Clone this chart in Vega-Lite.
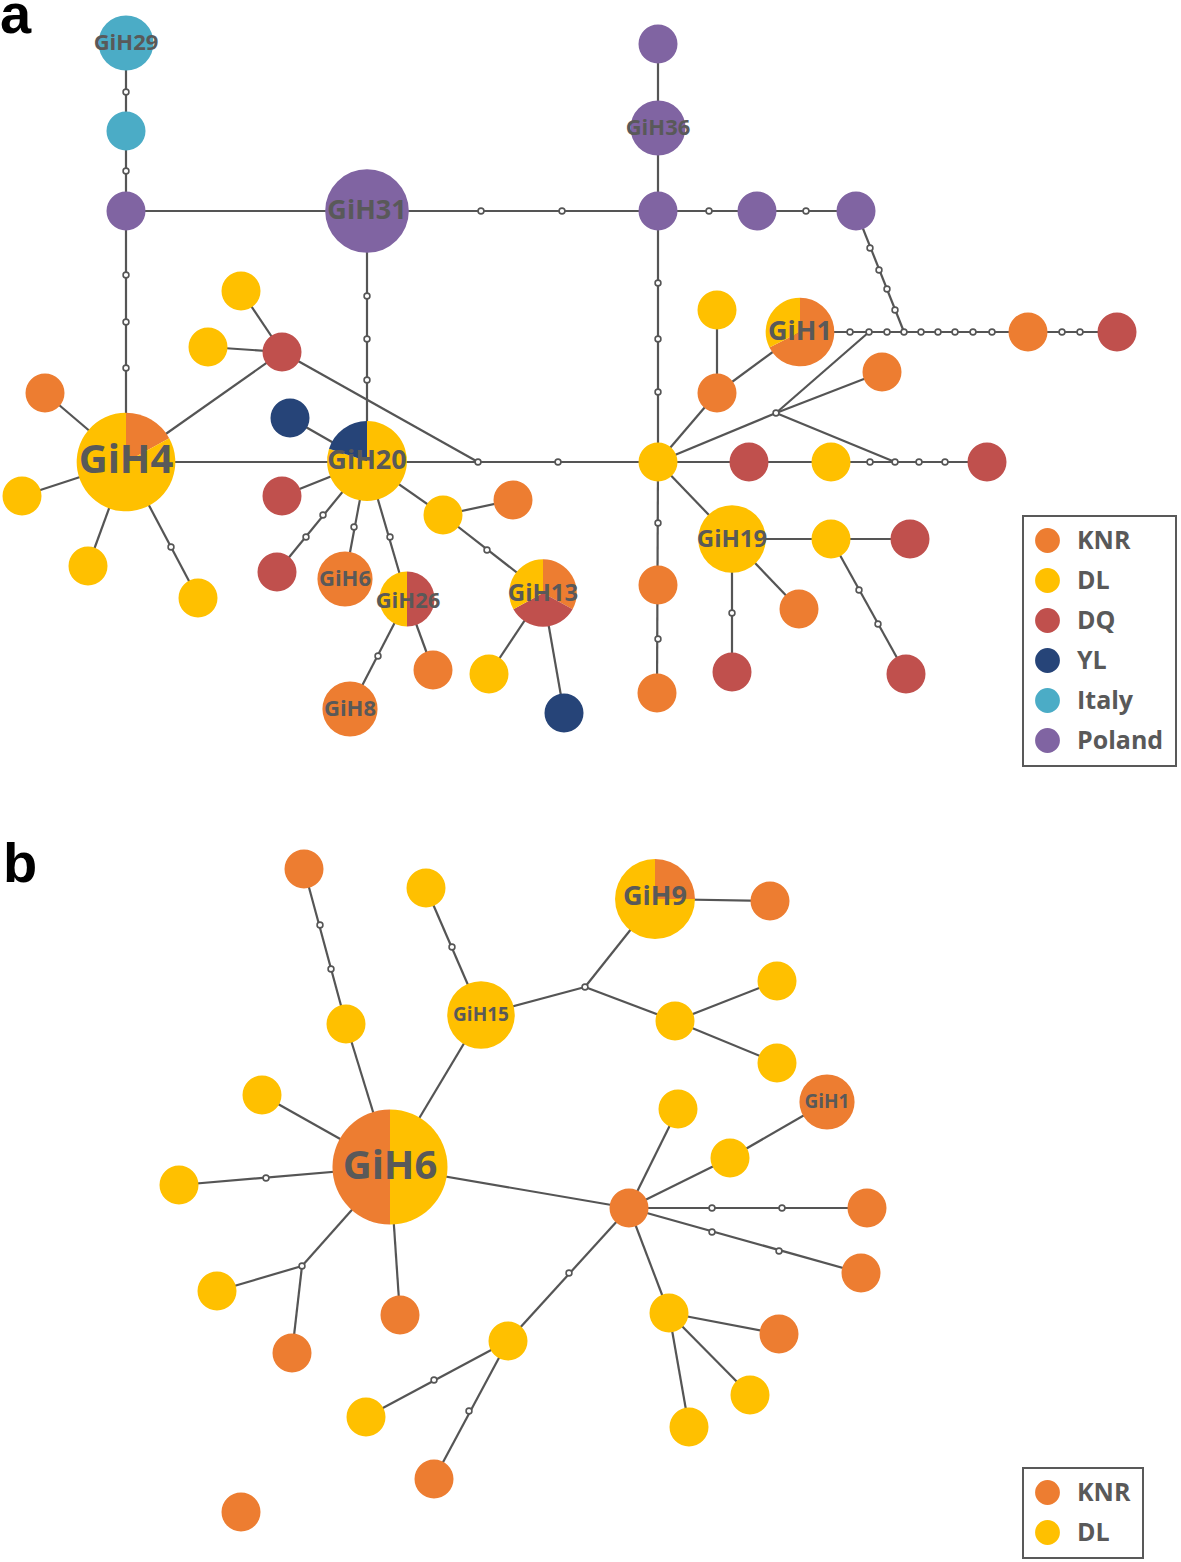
{
  "$schema": "https://vega.github.io/schema/vega-lite/v6.json",
  "width": 1181,
  "height": 1562,
  "padding": 0,
  "autosize": {"type": "none"},
  "background": "white",
  "config": {
    "view": {"stroke": null},
    "legend": {
      "labelFont": "Open Sans",
      "labelFontSize": 25,
      "labelFontWeight": "bold",
      "labelColor": "#595959",
      "padding": 12,
      "rowPadding": 14,
      "labelOffset": 17,
      "strokeColor": "#595959",
      "strokeWidth": 2,
      "fillColor": "white",
      "symbolStrokeWidth": 0,
      "symbolOpacity": 1
    }
  },
  "datasets": {
    "nodes": [
      {"p":"a","id":"GiH29","x":126,"y":43,"n":2,"pop":"Italy","a0":0,"a1":1},
      {"p":"a","id":"a2","x":126,"y":131,"n":1,"pop":"Italy","a0":0,"a1":1},
      {"p":"a","id":"a3","x":126,"y":211,"n":1,"pop":"Poland","a0":0,"a1":1},
      {"p":"a","id":"GiH31","x":367,"y":211,"n":4.6,"pop":"Poland","a0":0,"a1":1},
      {"p":"a","id":"a5","x":658,"y":44,"n":1,"pop":"Poland","a0":0,"a1":1},
      {"p":"a","id":"GiH36","x":658,"y":128,"n":2,"pop":"Poland","a0":0,"a1":1},
      {"p":"a","id":"a7","x":658,"y":211,"n":1,"pop":"Poland","a0":0,"a1":1},
      {"p":"a","id":"a8","x":757,"y":211,"n":1,"pop":"Poland","a0":0,"a1":1},
      {"p":"a","id":"a9","x":856,"y":211,"n":1,"pop":"Poland","a0":0,"a1":1},
      {"p":"a","id":"GiH1","x":800,"y":332,"n":3.1,"pop":"KNR","a0":0,"a1":0.675},
      {"p":"a","id":"GiH1","x":800,"y":332,"n":3.1,"pop":"DL","a0":0.675,"a1":1},
      {"p":"a","id":"a11","x":1028,"y":332,"n":1,"pop":"KNR","a0":0,"a1":1},
      {"p":"a","id":"a12","x":1117,"y":332,"n":1,"pop":"DQ","a0":0,"a1":1},
      {"p":"a","id":"a13","x":882,"y":372,"n":1,"pop":"KNR","a0":0,"a1":1},
      {"p":"a","id":"a14","x":717,"y":310,"n":1,"pop":"DL","a0":0,"a1":1},
      {"p":"a","id":"a15","x":717,"y":393,"n":1,"pop":"KNR","a0":0,"a1":1},
      {"p":"a","id":"a16","x":658,"y":462,"n":1,"pop":"DL","a0":0,"a1":1},
      {"p":"a","id":"a17","x":749,"y":462,"n":1,"pop":"DQ","a0":0,"a1":1},
      {"p":"a","id":"a18","x":831,"y":462,"n":1,"pop":"DL","a0":0,"a1":1},
      {"p":"a","id":"a19","x":987,"y":462,"n":1,"pop":"DQ","a0":0,"a1":1},
      {"p":"a","id":"GiH19","x":732,"y":539,"n":3,"pop":"DL","a0":0,"a1":1},
      {"p":"a","id":"a21","x":831,"y":539,"n":1,"pop":"DL","a0":0,"a1":1},
      {"p":"a","id":"a22","x":910,"y":539,"n":1,"pop":"DQ","a0":0,"a1":1},
      {"p":"a","id":"a23","x":799,"y":609,"n":1,"pop":"KNR","a0":0,"a1":1},
      {"p":"a","id":"a24","x":732,"y":672,"n":1,"pop":"DQ","a0":0,"a1":1},
      {"p":"a","id":"a25","x":906,"y":674,"n":1,"pop":"DQ","a0":0,"a1":1},
      {"p":"a","id":"a26","x":658,"y":585,"n":1,"pop":"KNR","a0":0,"a1":1},
      {"p":"a","id":"a27","x":657,"y":693,"n":1,"pop":"KNR","a0":0,"a1":1},
      {"p":"a","id":"GiH4","x":126,"y":462,"n":6.4,"pop":"KNR","a0":0,"a1":0.17},
      {"p":"a","id":"GiH4","x":126,"y":462,"n":6.4,"pop":"DL","a0":0.17,"a1":1},
      {"p":"a","id":"a29","x":45,"y":393,"n":1,"pop":"KNR","a0":0,"a1":1},
      {"p":"a","id":"a30","x":22,"y":496,"n":1,"pop":"DL","a0":0,"a1":1},
      {"p":"a","id":"a31","x":88,"y":566,"n":1,"pop":"DL","a0":0,"a1":1},
      {"p":"a","id":"a32","x":198,"y":598,"n":1,"pop":"DL","a0":0,"a1":1},
      {"p":"a","id":"a33","x":241,"y":291,"n":1,"pop":"DL","a0":0,"a1":1},
      {"p":"a","id":"a34","x":208,"y":347,"n":1,"pop":"DL","a0":0,"a1":1},
      {"p":"a","id":"a35","x":282,"y":352,"n":1,"pop":"DQ","a0":0,"a1":1},
      {"p":"a","id":"GiH20","x":367,"y":461,"n":4.2,"pop":"DL","a0":0,"a1":0.8},
      {"p":"a","id":"GiH20","x":367,"y":461,"n":4.2,"pop":"YL","a0":0.8,"a1":1},
      {"p":"a","id":"a37","x":290,"y":418,"n":1,"pop":"YL","a0":0,"a1":1},
      {"p":"a","id":"a38","x":282,"y":496,"n":1,"pop":"DQ","a0":0,"a1":1},
      {"p":"a","id":"a39","x":277,"y":572,"n":1,"pop":"DQ","a0":0,"a1":1},
      {"p":"a","id":"GiH6","x":345,"y":579,"n":2,"pop":"KNR","a0":0,"a1":1},
      {"p":"a","id":"GiH26","x":407,"y":599,"n":2,"pop":"DQ","a0":0,"a1":0.5},
      {"p":"a","id":"GiH26","x":407,"y":599,"n":2,"pop":"DL","a0":0.5,"a1":1},
      {"p":"a","id":"GiH8","x":350,"y":709,"n":2,"pop":"KNR","a0":0,"a1":1},
      {"p":"a","id":"a43","x":433,"y":670,"n":1,"pop":"KNR","a0":0,"a1":1},
      {"p":"a","id":"a44","x":443,"y":515,"n":1,"pop":"DL","a0":0,"a1":1},
      {"p":"a","id":"a45","x":513,"y":500,"n":1,"pop":"KNR","a0":0,"a1":1},
      {"p":"a","id":"GiH13","x":543,"y":593,"n":3,"pop":"KNR","a0":0,"a1":0.33},
      {"p":"a","id":"GiH13","x":543,"y":593,"n":3,"pop":"DQ","a0":0.33,"a1":0.67},
      {"p":"a","id":"GiH13","x":543,"y":593,"n":3,"pop":"DL","a0":0.67,"a1":1},
      {"p":"a","id":"a47","x":489,"y":674,"n":1,"pop":"DL","a0":0,"a1":1},
      {"p":"a","id":"a48","x":564,"y":713,"n":1,"pop":"YL","a0":0,"a1":1},

      {"p":"b","id":"b1","x":304,"y":869,"n":1,"pop":"KNR","a0":0,"a1":1},
      {"p":"b","id":"b2","x":346,"y":1024,"n":1,"pop":"DL","a0":0,"a1":1},
      {"p":"b","id":"b3","x":426,"y":888,"n":1,"pop":"DL","a0":0,"a1":1},
      {"p":"b","id":"GiH15","x":481,"y":1015,"n":3,"pop":"DL","a0":0,"a1":1},
      {"p":"b","id":"GiH9","x":655,"y":899,"n":4.2,"pop":"KNR","a0":0,"a1":0.25},
      {"p":"b","id":"GiH9","x":655,"y":899,"n":4.2,"pop":"DL","a0":0.25,"a1":1},
      {"p":"b","id":"b6","x":770,"y":901,"n":1,"pop":"KNR","a0":0,"a1":1},
      {"p":"b","id":"b7","x":675,"y":1021,"n":1,"pop":"DL","a0":0,"a1":1},
      {"p":"b","id":"b8","x":777,"y":981,"n":1,"pop":"DL","a0":0,"a1":1},
      {"p":"b","id":"b9","x":777,"y":1063,"n":1,"pop":"DL","a0":0,"a1":1},
      {"p":"b","id":"GiH1","x":827,"y":1102,"n":2,"pop":"KNR","a0":0,"a1":1},
      {"p":"b","id":"b11","x":678,"y":1109,"n":1,"pop":"DL","a0":0,"a1":1},
      {"p":"b","id":"b12","x":730,"y":1158,"n":1,"pop":"DL","a0":0,"a1":1},
      {"p":"b","id":"b13","x":629,"y":1208,"n":1,"pop":"KNR","a0":0,"a1":1},
      {"p":"b","id":"b14","x":867,"y":1208,"n":1,"pop":"KNR","a0":0,"a1":1},
      {"p":"b","id":"b15","x":861,"y":1273,"n":1,"pop":"KNR","a0":0,"a1":1},
      {"p":"b","id":"b16","x":669,"y":1313,"n":1,"pop":"DL","a0":0,"a1":1},
      {"p":"b","id":"b17","x":779,"y":1334,"n":1,"pop":"KNR","a0":0,"a1":1},
      {"p":"b","id":"b18","x":750,"y":1395,"n":1,"pop":"DL","a0":0,"a1":1},
      {"p":"b","id":"b19","x":689,"y":1427,"n":1,"pop":"DL","a0":0,"a1":1},
      {"p":"b","id":"GiH6","x":390,"y":1167,"n":8.7,"pop":"DL","a0":0,"a1":0.5},
      {"p":"b","id":"GiH6","x":390,"y":1167,"n":8.7,"pop":"KNR","a0":0.5,"a1":1},
      {"p":"b","id":"b21","x":262,"y":1095,"n":1,"pop":"DL","a0":0,"a1":1},
      {"p":"b","id":"b22","x":179,"y":1185,"n":1,"pop":"DL","a0":0,"a1":1},
      {"p":"b","id":"b23","x":217,"y":1291,"n":1,"pop":"DL","a0":0,"a1":1},
      {"p":"b","id":"b24","x":292,"y":1353,"n":1,"pop":"KNR","a0":0,"a1":1},
      {"p":"b","id":"b25","x":400,"y":1315,"n":1,"pop":"KNR","a0":0,"a1":1},
      {"p":"b","id":"b26","x":508,"y":1341,"n":1,"pop":"DL","a0":0,"a1":1},
      {"p":"b","id":"b27","x":366,"y":1417,"n":1,"pop":"DL","a0":0,"a1":1},
      {"p":"b","id":"b28","x":434,"y":1479,"n":1,"pop":"KNR","a0":0,"a1":1},
      {"p":"b","id":"b29","x":241,"y":1512,"n":1,"pop":"KNR","a0":0,"a1":1}
    ],
    "edges": [
      {"x":126,"y":43,"x2":126,"y2":462},
      {"x":126,"y":211,"x2":367,"y2":211},
      {"x":367,"y":211,"x2":658,"y2":211},
      {"x":658,"y":44,"x2":658,"y2":462},
      {"x":658,"y":211,"x2":856,"y2":211},
      {"x":856,"y":211,"x2":904,"y2":332},
      {"x":800,"y":332,"x2":1117,"y2":332},
      {"x":367,"y":211,"x2":367,"y2":462},
      {"x":241,"y":291,"x2":282,"y2":352},
      {"x":208,"y":347,"x2":282,"y2":352},
      {"x":282,"y":352,"x2":126,"y2":462},
      {"x":282,"y":352,"x2":478,"y2":462},
      {"x":126,"y":462,"x2":658,"y2":462},
      {"x":126,"y":462,"x2":45,"y2":393},
      {"x":126,"y":462,"x2":22,"y2":496},
      {"x":126,"y":462,"x2":88,"y2":566},
      {"x":126,"y":462,"x2":198,"y2":598},
      {"x":367,"y":462,"x2":290,"y2":418},
      {"x":367,"y":462,"x2":282,"y2":496},
      {"x":367,"y":462,"x2":277,"y2":572},
      {"x":367,"y":462,"x2":345,"y2":579},
      {"x":367,"y":462,"x2":407,"y2":599},
      {"x":407,"y":599,"x2":350,"y2":709},
      {"x":407,"y":599,"x2":433,"y2":670},
      {"x":367,"y":462,"x2":443,"y2":515},
      {"x":443,"y":515,"x2":513,"y2":500},
      {"x":443,"y":515,"x2":543,"y2":593},
      {"x":543,"y":593,"x2":489,"y2":674},
      {"x":543,"y":593,"x2":564,"y2":713},
      {"x":658,"y":462,"x2":717,"y2":393},
      {"x":717,"y":393,"x2":717,"y2":310},
      {"x":717,"y":393,"x2":800,"y2":332},
      {"x":658,"y":462,"x2":776,"y2":413},
      {"x":776,"y":413,"x2":869,"y2":332},
      {"x":776,"y":413,"x2":882,"y2":372},
      {"x":776,"y":413,"x2":895,"y2":462},
      {"x":658,"y":462,"x2":987,"y2":462},
      {"x":658,"y":462,"x2":732,"y2":539},
      {"x":732,"y":539,"x2":910,"y2":539},
      {"x":831,"y":539,"x2":906,"y2":674},
      {"x":732,"y":539,"x2":799,"y2":609},
      {"x":732,"y":539,"x2":732,"y2":672},
      {"x":658,"y":462,"x2":657,"y2":693},

      {"x":304,"y":869,"x2":346,"y2":1024},
      {"x":346,"y":1024,"x2":390,"y2":1167},
      {"x":426,"y":888,"x2":481,"y2":1015},
      {"x":481,"y":1015,"x2":390,"y2":1167},
      {"x":481,"y":1015,"x2":585,"y2":987},
      {"x":585,"y":987,"x2":655,"y2":899},
      {"x":585,"y":987,"x2":675,"y2":1021},
      {"x":655,"y":899,"x2":770,"y2":901},
      {"x":675,"y":1021,"x2":777,"y2":981},
      {"x":675,"y":1021,"x2":777,"y2":1063},
      {"x":390,"y":1167,"x2":262,"y2":1095},
      {"x":390,"y":1167,"x2":179,"y2":1185},
      {"x":390,"y":1167,"x2":302,"y2":1266},
      {"x":302,"y":1266,"x2":217,"y2":1291},
      {"x":302,"y":1266,"x2":292,"y2":1353},
      {"x":390,"y":1167,"x2":400,"y2":1315},
      {"x":390,"y":1167,"x2":629,"y2":1208},
      {"x":629,"y":1208,"x2":678,"y2":1109},
      {"x":629,"y":1208,"x2":730,"y2":1158},
      {"x":730,"y":1158,"x2":827,"y2":1102},
      {"x":629,"y":1208,"x2":867,"y2":1208},
      {"x":629,"y":1208,"x2":861,"y2":1273},
      {"x":629,"y":1208,"x2":669,"y2":1313},
      {"x":669,"y":1313,"x2":779,"y2":1334},
      {"x":669,"y":1313,"x2":750,"y2":1395},
      {"x":669,"y":1313,"x2":689,"y2":1427},
      {"x":629,"y":1208,"x2":508,"y2":1341},
      {"x":508,"y":1341,"x2":366,"y2":1417},
      {"x":508,"y":1341,"x2":434,"y2":1479}
    ],
    "meds": [
      {"x":126,"y":92},{"x":126,"y":171},{"x":126,"y":275},{"x":126,"y":322},{"x":126,"y":368},
      {"x":367,"y":296},{"x":367,"y":339},{"x":367,"y":380},
      {"x":481,"y":211},{"x":562,"y":211},{"x":709,"y":211},{"x":806,"y":211},
      {"x":870,"y":248},{"x":879,"y":270},{"x":887,"y":289},{"x":895,"y":310},
      {"x":850,"y":332},{"x":869,"y":332},{"x":887,"y":332},{"x":904,"y":332},{"x":921,"y":332},
      {"x":938,"y":332},{"x":955,"y":332},{"x":973,"y":332},{"x":992,"y":332},
      {"x":1062,"y":332},{"x":1080,"y":332},
      {"x":658,"y":283},{"x":658,"y":339},{"x":658,"y":392},
      {"x":478,"y":462},{"x":558,"y":462},{"x":776,"y":413},
      {"x":870,"y":462},{"x":895,"y":462},{"x":919,"y":462},{"x":945,"y":462},
      {"x":859,"y":590},{"x":878,"y":624},{"x":732,"y":613},
      {"x":658,"y":523},{"x":658,"y":639},
      {"x":171,"y":547},{"x":323,"y":515},{"x":306,"y":537},{"x":354,"y":527},{"x":390,"y":537},
      {"x":378,"y":656},{"x":487,"y":550},

      {"x":320,"y":925},{"x":331,"y":969},{"x":452,"y":947},{"x":585,"y":987},
      {"x":266,"y":1178},{"x":302,"y":1266},{"x":712,"y":1208},{"x":782,"y":1208},
      {"x":712,"y":1232},{"x":779,"y":1251},{"x":569,"y":1273},{"x":434,"y":1380},{"x":469,"y":1411}
    ],
    "labels": [
      {"key":"a:GiH29","label":"GiH29","x":126,"y":43},
      {"key":"a:GiH36","label":"GiH36","x":658,"y":128},
      {"key":"a:GiH31","label":"GiH31","x":367,"y":211},
      {"key":"a:GiH1","label":"GiH1","x":800,"y":332},
      {"key":"a:GiH4","label":"GiH4","x":126,"y":461},
      {"key":"a:GiH20","label":"GiH20","x":367,"y":461},
      {"key":"a:GiH19","label":"GiH19","x":732,"y":540},
      {"key":"a:GiH6","label":"GiH6","x":345,"y":579},
      {"key":"a:GiH26","label":"GiH26","x":408,"y":601},
      {"key":"a:GiH13","label":"GiH13","x":543,"y":594},
      {"key":"a:GiH8","label":"GiH8","x":350,"y":709},
      {"key":"b:GiH9","label":"GiH9","x":655,"y":897},
      {"key":"b:GiH15","label":"GiH15","x":481,"y":1015},
      {"key":"b:GiH1","label":"GiH1","x":827,"y":1102},
      {"key":"b:GiH6","label":"GiH6","x":390,"y":1167}
    ],
    "letters": [
      {"t":"a","x":0,"y":33},
      {"t":"b","x":3,"y":882}
    ]
  },
  "layer": [
    {
      "data": {"name": "edges"},
      "mark": {"type": "rule", "color": "#555555", "strokeWidth": 2.2},
      "encoding": {
        "x": {"field": "x", "type": "quantitative", "scale": {"domain": [0, 1181], "nice": false, "zero": false}, "axis": null},
        "y": {"field": "y", "type": "quantitative", "scale": {"domain": [0, 1562], "nice": false, "zero": false, "reverse": true}, "axis": null},
        "x2": {"field": "x2"},
        "y2": {"field": "y2"}
      }
    },
    {
      "data": {"name": "meds"},
      "mark": {"type": "point", "shape": "circle", "filled": true, "fill": "white", "stroke": "#555555", "strokeWidth": 1.6, "size": 34, "opacity": 1},
      "encoding": {
        "x": {"field": "x", "type": "quantitative"},
        "y": {"field": "y", "type": "quantitative"}
      }
    },
    {
      "data": {"name": "nodes"},
      "transform": [{"filter": "datum.p == 'a'"}],
      "mark": {"type": "arc", "stroke": null},
      "encoding": {
        "x": {"field": "x", "type": "quantitative"},
        "y": {"field": "y", "type": "quantitative"},
        "theta": {"field": "a0", "type": "quantitative", "stack": null, "scale": {"domain": [0, 1], "range": [0, 6.283185307]}},
        "theta2": {"field": "a1"},
        "radius": {"field": "n", "type": "quantitative", "scale": {"type": "sqrt", "domain": [0, 9], "range": [0, 58.5], "zero": true}},
        "color": {
          "field": "pop", "type": "nominal",
          "scale": {"domain": ["KNR", "DL", "DQ", "YL", "Italy", "Poland"], "range": ["#ED7D31", "#FFC000", "#C0504D", "#264478", "#4BACC6", "#8064A2"]},
          "legend": {"title": null, "orient": "none", "legendX": 1023, "legendY": 516, "symbolType": "circle", "symbolSize": 616}
        }
      }
    },
    {
      "data": {"name": "nodes"},
      "transform": [{"filter": "datum.p == 'b'"}],
      "mark": {"type": "arc", "stroke": null},
      "encoding": {
        "x": {"field": "x", "type": "quantitative"},
        "y": {"field": "y", "type": "quantitative"},
        "theta": {"field": "a0", "type": "quantitative", "stack": null},
        "theta2": {"field": "a1"},
        "radius": {"field": "n", "type": "quantitative"},
        "color": {
          "field": "pop", "type": "nominal",
          "scale": {"domain": ["KNR", "DL"], "range": ["#ED7D31", "#FFC000"]},
          "legend": {"title": null, "orient": "none", "legendX": 1023, "legendY": 1468, "symbolType": "circle", "symbolSize": 616}
        }
      }
    },
    {
      "data": {"name": "labels"},
      "transform": [{"filter": "indexof(['a:GiH4','b:GiH6'], datum.key) >= 0"}],
      "mark": {"type": "text", "font": "Open Sans", "fontWeight": "bold", "fontSize": 40, "color": "#595959", "align": "center", "baseline": "middle"},
      "encoding": {
        "x": {"field": "x", "type": "quantitative"},
        "y": {"field": "y", "type": "quantitative"},
        "text": {"field": "label"}
      }
    },
    {
      "data": {"name": "labels"},
      "transform": [{"filter": "indexof(['a:GiH31','a:GiH20','b:GiH9','a:GiH1'], datum.key) >= 0"}],
      "mark": {"type": "text", "font": "Open Sans", "fontWeight": "bold", "fontSize": 27, "color": "#595959", "align": "center", "baseline": "middle"},
      "encoding": {
        "x": {"field": "x", "type": "quantitative"},
        "y": {"field": "y", "type": "quantitative"},
        "text": {"field": "label"}
      }
    },
    {
      "data": {"name": "labels"},
      "transform": [{"filter": "indexof(['a:GiH13','a:GiH19'], datum.key) >= 0"}],
      "mark": {"type": "text", "font": "Open Sans", "fontWeight": "bold", "fontSize": 24, "color": "#595959", "align": "center", "baseline": "middle"},
      "encoding": {
        "x": {"field": "x", "type": "quantitative"},
        "y": {"field": "y", "type": "quantitative"},
        "text": {"field": "label"}
      }
    },
    {
      "data": {"name": "labels"},
      "transform": [{"filter": "indexof(['a:GiH29','a:GiH36','a:GiH6','a:GiH26','a:GiH8'], datum.key) >= 0"}],
      "mark": {"type": "text", "font": "Open Sans", "fontWeight": "bold", "fontSize": 22, "color": "#595959", "align": "center", "baseline": "middle"},
      "encoding": {
        "x": {"field": "x", "type": "quantitative"},
        "y": {"field": "y", "type": "quantitative"},
        "text": {"field": "label"}
      }
    },
    {
      "data": {"name": "labels"},
      "transform": [{"filter": "indexof(['b:GiH15','b:GiH1'], datum.key) >= 0"}],
      "mark": {"type": "text", "font": "Open Sans", "fontWeight": "bold", "fontSize": 19, "color": "#595959", "align": "center", "baseline": "middle"},
      "encoding": {
        "x": {"field": "x", "type": "quantitative"},
        "y": {"field": "y", "type": "quantitative"},
        "text": {"field": "label"}
      }
    },
    {
      "data": {"name": "letters"},
      "mark": {"type": "text", "font": "Liberation Sans", "fontWeight": "bold", "fontSize": 56, "color": "#000000", "align": "left", "baseline": "alphabetic"},
      "encoding": {
        "x": {"field": "x", "type": "quantitative"},
        "y": {"field": "y", "type": "quantitative"},
        "text": {"field": "t"}
      }
    }
  ],
  "resolve": {"scale": {"color": "independent"}}
}
